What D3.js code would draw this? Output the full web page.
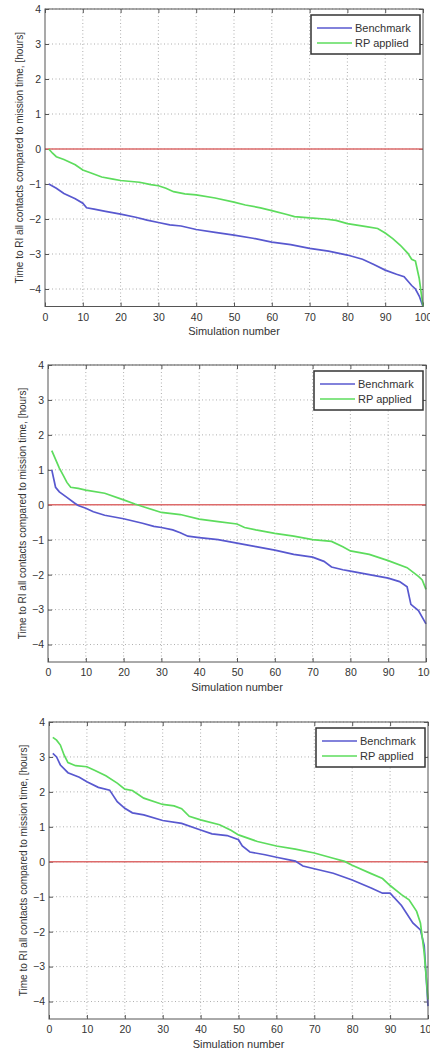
<!DOCTYPE html>
<html>
<head>
<meta charset="utf-8">
<script src="https://cdn.jsdelivr.net/npm/d3@7"></script>
<style>
    body { margin: 0; background: #fff; }
    svg { display: block; }
</style>
</head>
<body>
<div id="chart"></div>
<script>
// [simulation number, hours]
const bench1 = [[1, -1.0], [3, -1.12], [5, -1.27], [8, -1.42], [10, -1.55], [11, -1.68], [13, -1.72], [16, -1.78], [20, -1.86], [24, -1.95], [27, -2.03], [30, -2.1], [33, -2.17], [36, -2.2], [40, -2.3], [45, -2.38], [50, -2.46], [55, -2.55], [60, -2.66], [65, -2.73], [70, -2.84], [75, -2.92], [80, -3.03], [84, -3.15], [87, -3.3], [90, -3.46], [93, -3.58], [95, -3.65], [97, -3.9], [98, -4.0], [99, -4.2], [100, -4.5]]
const rp1 = [[1, 0], [2, -0.12], [3, -0.22], [5, -0.3], [8, -0.45], [10, -0.6], [12, -0.68], [15, -0.8], [18, -0.86], [20, -0.9], [25, -0.95], [28, -1.02], [30, -1.05], [32, -1.12], [34, -1.22], [37, -1.28], [40, -1.31], [45, -1.4], [50, -1.52], [53, -1.6], [57, -1.68], [60, -1.76], [64, -1.87], [66, -1.93], [70, -1.97], [74, -2.0], [77, -2.04], [80, -2.13], [85, -2.22], [88, -2.27], [90, -2.4], [92, -2.56], [94, -2.75], [96, -2.98], [97, -3.15], [98, -3.2], [99, -3.7], [100, -4.5]]

const bench2 = [[1, 1.0], [2, 0.5], [3, 0.37], [5, 0.21], [7, 0.05], [8, -0.02], [10, -0.1], [12, -0.2], [15, -0.3], [20, -0.4], [25, -0.53], [28, -0.62], [30, -0.65], [33, -0.72], [35, -0.8], [37, -0.9], [40, -0.94], [45, -1.0], [50, -1.1], [55, -1.2], [60, -1.3], [65, -1.42], [70, -1.5], [73, -1.62], [75, -1.78], [78, -1.86], [80, -1.9], [85, -2.0], [90, -2.1], [93, -2.2], [95, -2.35], [96, -2.85], [98, -3.03], [100, -3.41]]
const rp2 = [[1, 1.55], [2, 1.3], [3, 1.05], [4, 0.85], [5, 0.64], [6, 0.5], [8, 0.47], [10, 0.42], [15, 0.33], [20, 0.14], [23, 0.02], [25, -0.05], [30, -0.22], [35, -0.28], [40, -0.41], [45, -0.48], [50, -0.55], [52, -0.65], [55, -0.72], [60, -0.82], [65, -0.9], [70, -1.0], [75, -1.05], [78, -1.2], [80, -1.32], [85, -1.42], [90, -1.6], [95, -1.8], [98, -2.05], [99, -2.15], [100, -2.42]]

const bench3 = [[1, 3.1], [2, 3.0], [3, 2.77], [5, 2.55], [8, 2.42], [10, 2.29], [13, 2.13], [16, 2.05], [18, 1.72], [20, 1.53], [22, 1.4], [25, 1.34], [30, 1.18], [35, 1.1], [40, 0.91], [43, 0.8], [47, 0.75], [50, 0.63], [51, 0.45], [53, 0.28], [57, 0.2], [60, 0.13], [65, 0.02], [67, -0.12], [70, -0.2], [75, -0.33], [80, -0.52], [85, -0.75], [88, -0.9], [90, -0.9], [93, -1.25], [96, -1.75], [98, -1.95], [99, -2.4], [100, -4.13]]
const rp3 = [[1, 3.56], [2, 3.48], [3, 3.34], [4, 3.05], [5, 2.84], [7, 2.75], [10, 2.72], [12, 2.62], [15, 2.46], [18, 2.25], [20, 2.08], [22, 2.04], [25, 1.82], [30, 1.64], [33, 1.6], [35, 1.52], [37, 1.3], [40, 1.2], [45, 1.06], [48, 0.9], [50, 0.77], [55, 0.58], [60, 0.45], [65, 0.36], [70, 0.25], [75, 0.1], [78, 0.01], [80, -0.1], [85, -0.34], [88, -0.48], [90, -0.68], [93, -0.94], [95, -1.09], [97, -1.42], [98, -1.75], [99, -2.6], [100, -3.94]]

const seriesNames = ['Benchmark', 'RP applied']
const xTicks = [0, 10, 20, 30, 40, 50, 60, 70, 80, 90, 100]
const yTicks = [-4, -3, -2, -1, 0, 1, 2, 3, 4]
const xTitle = 'Simulation number'
const yTitle = 'Time to RI all contacts compared to mission time, [hours]'

const colors = ['#5858cf', '#5ddc5d']
const zeroColor = '#dd6b6b'

const svg = d3.select('#chart').append('svg')
    .attr('width', 430)
    .attr('height', 1050)
    .attr('font-family', '\'Liberation Sans\', Arial, sans-serif')
    .attr('font-size', 10)

const panels = [
    { left: 45, right: 423, top: 9, bottom: 306.5, data: [bench1, rp1] },
    { left: 48, right: 426, top: 365, bottom: 662, data: [bench2, rp2] },
    { left: 49, right: 428, top: 722, bottom: 1019, data: [bench3, rp3] }
]

panels.forEach(function (p) {
    const x = d3.scaleLinear().domain([0, 100]).range([p.left, p.right])
    const y = d3.scaleLinear().domain([-4.5, 4]).range([p.bottom, p.top])
    const g = svg.append('g')

    // dotted grid
    g.selectAll('.gx').data(xTicks.slice(1, -1)).enter().append('line')
        .attr('x1', d => x(d)).attr('x2', d => x(d))
        .attr('y1', p.top).attr('y2', p.bottom)
        .attr('stroke', '#9a9a9a').attr('stroke-width', 0.8)
        .attr('stroke-dasharray', '1,2.5')
    g.selectAll('.gy').data(yTicks).enter().append('line')
        .attr('x1', p.left).attr('x2', p.right)
        .attr('y1', d => y(d)).attr('y2', d => y(d))
        .attr('stroke', '#9a9a9a').attr('stroke-width', 0.8)
        .attr('stroke-dasharray', '1,2.5')

    // axes, ticks pointing inwards
    const bottomAxis = g.append('g')
        .attr('transform', 'translate(0,' + p.bottom + ')')
        .call(d3.axisBottom(x).tickValues(xTicks).tickSizeInner(-4).tickSizeOuter(0).tickPadding(7))
    g.append('g')
        .attr('transform', 'translate(0,' + p.top + ')')
        .call(d3.axisTop(x).tickValues(xTicks).tickSizeInner(-4).tickSizeOuter(0).tickFormat(''))
    const leftAxis = g.append('g')
        .attr('transform', 'translate(' + p.left + ',0)')
        .call(d3.axisLeft(y).tickValues(yTicks).tickSizeInner(-4).tickSizeOuter(0).tickPadding(4))
    g.append('g')
        .attr('transform', 'translate(' + p.right + ',0)')
        .call(d3.axisRight(y).tickValues(yTicks).tickSizeInner(-4).tickSizeOuter(0).tickFormat(''))
    g.selectAll('.domain').remove()
    g.selectAll('.tick line').attr('stroke', '#555')
    bottomAxis.selectAll('text').attr('fill', '#333').attr('font-size', 10.5)
    leftAxis.selectAll('text').attr('fill', '#333').attr('font-size', 10.5)

    // zero reference line
    g.append('line')
        .attr('x1', x(0)).attr('x2', x(100))
        .attr('y1', y(0)).attr('y2', y(0))
        .attr('stroke', zeroColor)
        .attr('stroke-width', 1.6)

    const line = d3.line().x(d => x(d[0])).y(d => y(d[1]))
    p.data.forEach(function (s, i) {
        g.append('path')
            .datum(s)
            .attr('d', line)
            .attr('fill', 'none')
            .attr('stroke', colors[i])
            .attr('stroke-width', 1.7)
    })

    // box
    g.append('rect')
        .attr('x', p.left).attr('y', p.top)
        .attr('width', p.right - p.left).attr('height', p.bottom - p.top)
        .attr('fill', 'none')
        .attr('stroke', '#555')
        .attr('stroke-width', 1)

    // titles
    g.append('text')
        .attr('x', (p.left + p.right) / 2)
        .attr('y', p.bottom + 25)
        .attr('dy', '0.35em')
        .attr('text-anchor', 'middle')
        .attr('fill', '#333')
        .attr('font-size', 11)
        .text(xTitle)
    g.append('text')
        .attr('transform', 'translate(' + (p.left - 26) + ',' + (p.top + p.bottom) / 2 + ') rotate(-90)')
        .attr('dy', '0.35em')
        .attr('text-anchor', 'middle')
        .attr('fill', '#333')
        .attr('font-size', 10)
        .text(yTitle)

    // legend
    const lx = p.right - 3 - 109
    const ly = p.top + 6
    g.append('rect')
        .attr('x', lx).attr('y', ly)
        .attr('width', 109).attr('height', 39)
        .attr('fill', '#fff')
        .attr('stroke', '#333')
        .attr('stroke-width', 1.5)
    seriesNames.forEach(function (name, i) {
        g.append('line')
            .attr('x1', lx + 6).attr('x2', lx + 41)
            .attr('y1', ly + 13 + i * 15).attr('y2', ly + 13 + i * 15)
            .attr('stroke', colors[i])
            .attr('stroke-width', 1.7)
        g.append('text')
            .attr('x', lx + 44)
            .attr('y', ly + 13 + i * 15)
            .attr('dy', '0.35em')
            .attr('fill', '#333')
            .attr('font-size', 11)
            .text(name)
    })
})
</script>
</body>
</html>
